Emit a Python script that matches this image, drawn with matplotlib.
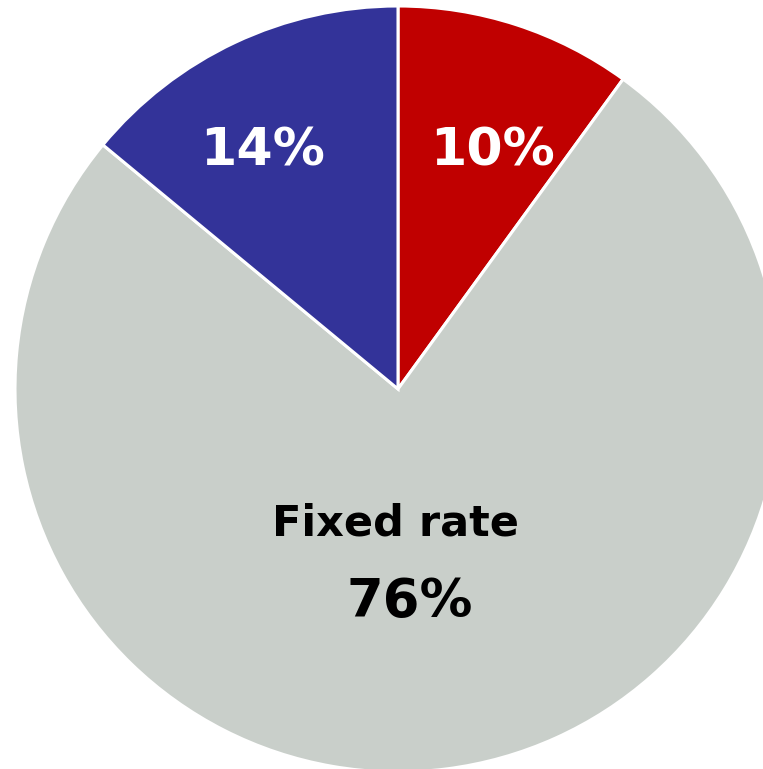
import matplotlib
matplotlib.use("Agg")
import matplotlib.pyplot as plt

labels = ["Floating rate", "Fixed rate", "Other"]
values = [10, 76, 14]
colors = ["#C00000", "#C9CFCA", "#333399"]
pct_labels = ["10%", "76%", "14%"]

W, H = 763, 769
fig = plt.figure(figsize=(W / 100, H / 100), dpi=100)
ax = fig.add_axes([0, 0, 1, 1])

cx, cy, r = 398, H - 389, 383
ax.pie(values, colors=colors, startangle=90, counterclock=False,
       center=(cx, cy), radius=r,
       wedgeprops=dict(edgecolor="white", linewidth=2.2))

ax.set_xlim(0, W)
ax.set_ylim(0, H)
ax.set_aspect("equal", adjustable="datalim")
ax.axis("off")

font = dict(family="DejaVu Sans", fontweight="bold")
ax.text(493, H - 165, pct_labels[0], color="white", fontsize=37.5, ha="center", va="baseline", **font)
ax.text(263, H - 165, pct_labels[2], color="white", fontsize=37.5, ha="center", va="baseline", **font)
ax.text(396, H - 535, labels[1], color="black", fontsize=31, ha="center", va="baseline", **font)
ax.text(410, H - 617, pct_labels[1], color="black", fontsize=38, ha="center", va="baseline", **font)

fig.savefig("out.png", dpi=100, facecolor="white")
